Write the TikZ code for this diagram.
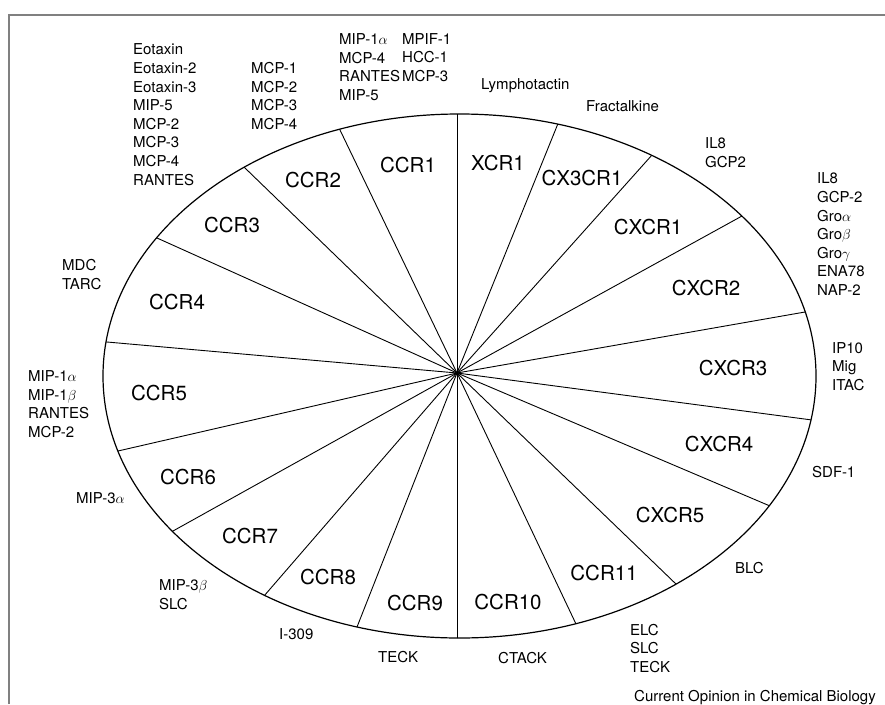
\documentclass[tikz,border=0pt]{standalone}
\usepackage{fontspec}
\setmainfont{TeX Gyre Heros}
\begin{document}
\begin{tikzpicture}[
  x=1pt, y=-1pt,
  frameLine/.style={black!50, line width=1.1pt},
  rimLine/.style={black, line width=1.2pt},
  spoke/.style={black, line width=0.9pt, shorten >=-12pt},
  receptor/.style={font=\fontsize{20.5}{24}\selectfont, inner sep=0pt},
  % multi-line ligand lists are placed by the baseline of their last line
  ligand/.style={font=\fontsize{15}{18.6}\selectfont, align=left,
    anchor=base west, inner sep=0pt}
]
\useasboundingbox (0,0) rectangle (885,704);

% open frame (top and left only)
\draw[frameLine] (9,704) -- (9,15) -- (885,15);

\coordinate (hub) at (457,373);
\coordinate (r1) at (457,114);  % XCR1 | CCR1
\coordinate (r2) at (340,130);  % CCR1 | CCR2
\coordinate (r3) at (245,168);  % CCR2 | CCR3
\coordinate (r4) at (157,238);  % CCR3 | CCR4
\coordinate (r5) at (107,342);  % CCR4 | CCR5
\coordinate (r6) at (118,451);  % CCR5 | CCR6
\coordinate (r7) at (173,531);  % CCR6 | CCR7
\coordinate (r8) at (264,596);  % CCR7 | CCR8
\coordinate (r9) at (357,627);  % CCR8 | CCR9
\coordinate (r10) at (457,638); % CCR9 | CCR10
\coordinate (r11) at (576,624); % CCR10 | CCR11
\coordinate (r12) at (677,585); % CCR11 | CXCR5
\coordinate (r13) at (770,506); % CXCR5 | CXCR4
\coordinate (r14) at (812,420); % CXCR4 | CXCR3
\coordinate (r15) at (805,312); % CXCR3 | CXCR2
\coordinate (r16) at (742,216); % CXCR2 | CXCR1
\coordinate (r17) at (652,155); % CXCR1 | CX3CR1
\coordinate (r18) at (557,126); % CX3CR1 | XCR1

% spokes, cut at the rim
\begin{scope}
  \clip (459.5,376) ellipse [x radius=356.5, y radius=262];
  \foreach \i in {1,...,18}
    \draw[spoke] (hub) -- (r\i);
\end{scope}
\draw[rimLine] (459.5,376) ellipse [x radius=356.5, y radius=262];

% receptors
\node[receptor] (rXCR1) at (498,163) {XCR1};
\node[receptor] (rCCR1) at (408,165) {CCR1};
\node[receptor] (rCCR2) at (313,180) {CCR2};
\node[receptor] (rCCR3) at (232,225) {CCR3};
\node[receptor] (rCCR4) at (177,302) {CCR4};
\node[receptor] (rCCR5) at (159,393) {CCR5};
\node[receptor] (rCCR6) at (188,477) {CCR6};
\node[receptor] (rCCR7) at (250,536) {CCR7};
\node[receptor] (rCCR8) at (328,577) {CCR8};
\node[receptor] (rCCR9) at (415,603) {CCR9};
\node[receptor] (rCCR10) at (508,602) {CCR10};
\node[receptor] (rCCR11) at (604,573) {CCR11};
\node[receptor] (rCXCR5) at (670,515) {CXCR5};
\node[receptor] (rCXCR4) at (719,444) {CXCR4};
\node[receptor] (rCXCR3) at (733,368) {CXCR3};
\node[receptor] (rCXCR2) at (706,288) {CXCR2};
\node[receptor] (rCXCR1) at (648,227) {CXCR1};
\node[receptor] (rCX3CR1) at (582,178) {CX3CR1};

% ligands
\node[ligand] (lCCR3) at (133,185)
  {Eotaxin\\Eotaxin-2\\Eotaxin-3\\MIP-5\\MCP-2\\MCP-3\\MCP-4\\RANTES};
\node[ligand] (lCCR2) at (251,129.4) {MCP-1\\MCP-2\\MCP-3\\MCP-4};
\node[ligand] (lCCR1a) at (339,100.4)
  {MIP-1$\alpha$\\MCP-4\\RANTES\\MIP-5};
\node[ligand] (lCCR1b) at (402,81.4) {MPIF-1\\HCC-1\\MCP-3};
\node[ligand] (lXCR1) at (481,89.4) {Lymphotactin};
\node[ligand] (lCX3CR1) at (586,111.4) {Fractalkine};
\node[ligand] (lCXCR1) at (705,167.4) {IL8\\GCP2};
\node[ligand] (lCXCR2) at (817,295.4)
  {IL8\\GCP-2\\Gro$\alpha$\\Gro$\beta$\\Gro$\gamma$\\ENA78\\NAP-2};
\node[ligand] (lCXCR3) at (832,390.4) {IP10\\Mig\\ITAC};
\node[ligand] (lCXCR4) at (812,477.4) {SDF-1};
\node[ligand] (lCXCR5) at (735,573.4) {BLC};
\node[ligand] (lCCR11) at (630,672.4) {ELC\\SLC\\TECK};
\node[ligand] (lCCR10) at (498,663.4) {CTACK};
\node[ligand] (lCCR9) at (378,662.4) {TECK};
\node[ligand] (lCCR8) at (279,639.4) {I-309};
\node[ligand] (lCCR7) at (159,609.4) {MIP-3$\beta$\\SLC};
\node[ligand] (lCCR6) at (76,503.4) {MIP-3$\alpha$};
\node[ligand] (lCCR5) at (28,437.4)
  {MIP-1$\alpha$\\MIP-1$\beta$\\RANTES\\MCP-2};
\node[ligand] (lCCR4) at (62,289.4) {MDC\\TARC};

\node[ligand] (source) at (634,701.4) {Current Opinion in Chemical Biology};
\end{tikzpicture}
\end{document}
